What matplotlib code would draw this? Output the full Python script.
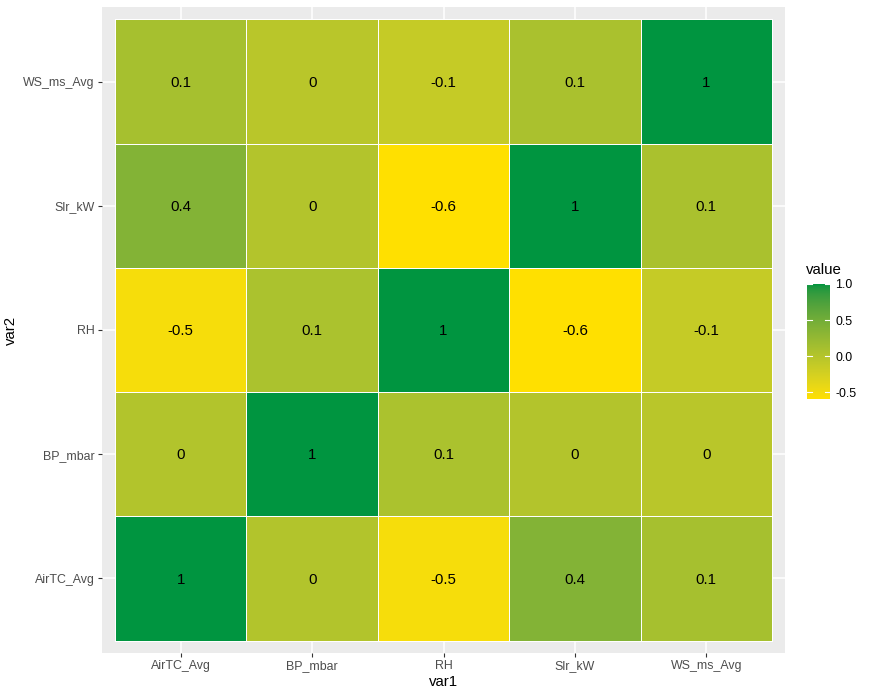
import numpy as np
import matplotlib
matplotlib.use("Agg")
import matplotlib.pyplot as plt
from matplotlib.colors import ListedColormap, to_rgb

plt.rcParams['font.family'] = ['Liberation Sans', 'DejaVu Sans']

# =============================
# DATOS
# =============================
variables = ['AirTC_Avg', 'BP_mbar', 'RH', 'Slr_kW', 'WS_ms_Avg']

# matriz de correlación (valores estimados, se muestran redondeados a 1 decimal)
corr = np.array([
    [1.00,  0.03, -0.52,  0.38,  0.12],
    [0.03,  1.00,  0.08,  0.02, -0.03],
    [-0.52, 0.08,  1.00, -0.59, -0.13],
    [0.38,  0.02, -0.59,  1.00,  0.09],
    [0.12, -0.03, -0.13,  0.09,  1.00],
])

legend_ticks = [-0.5, 0.0, 0.5, 1.0]
low_col = '#FFE000'
high_col = '#009540'


# =============================
# PALETA (interpolación en Lab, como ggplot2)
# =============================
def srgb_to_lab(c):
    c = np.asarray(c, dtype=float)
    lin = np.where(c <= 0.04045, c / 12.92, ((c + 0.055) / 1.055) ** 2.4)
    m = np.array([[0.4124, 0.3576, 0.1805],
                  [0.2126, 0.7152, 0.0722],
                  [0.0193, 0.1192, 0.9505]])
    xyz = m @ lin / np.array([0.95047, 1.0, 1.08883])
    f = np.where(xyz > 0.008856, np.cbrt(xyz), 7.787 * xyz + 16 / 116)
    return np.array([116 * f[1] - 16, 500 * (f[0] - f[1]), 200 * (f[1] - f[2])])


def lab_to_srgb(lab):
    L, a, b = lab
    fy = (L + 16) / 116
    fx = fy + a / 500
    fz = fy - b / 200
    f = np.array([fx, fy, fz])
    xyz = np.where(f ** 3 > 0.008856, f ** 3, (f - 16 / 116) / 7.787)
    xyz = xyz * np.array([0.95047, 1.0, 1.08883])
    minv = np.array([[3.2406, -1.5372, -0.4986],
                     [-0.9689, 1.8758, 0.0415],
                     [0.0557, -0.2040, 1.0570]])
    lin = minv @ xyz
    c = np.where(lin <= 0.0031308, 12.92 * lin, 1.055 * np.clip(lin, 0, None) ** (1 / 2.4) - 0.055)
    return np.clip(c, 0, 1)


lab_lo = srgb_to_lab(to_rgb(low_col))
lab_hi = srgb_to_lab(to_rgb(high_col))
cmap = ListedColormap([lab_to_srgb(lab_lo + t * (lab_hi - lab_lo)) for t in np.linspace(0, 1, 256)])
vmin, vmax = corr.min(), corr.max()

# =============================
# FIGURA
# =============================
W, H = 873, 698
fig = plt.figure(figsize=(W / 100, H / 100), dpi=100)
ax = fig.add_axes([102 / W, 1 - 653 / H, 683 / W, 646 / H])
ax.set_facecolor('#EBEBEB')

n = len(variables)
ax.pcolormesh(np.arange(n + 1) - 0.5, np.arange(n + 1) - 0.5, corr.T,
              cmap=cmap, vmin=vmin, vmax=vmax, edgecolors='white', linewidth=0.7, zorder=2)

for i in range(n):
    for j in range(n):
        v = round(corr[i, j], 1) + 0.0
        ax.text(i, j - 0.01, f"{v:g}", ha='center', va='center', fontsize=10.8, color='black', zorder=3)

ax.set_xlim(-0.6, n - 0.4)
ax.set_ylim(-0.6, n - 0.4)
ax.set_xticks(range(n))
ax.set_yticks(range(n))
ax.set_xticklabels(variables)
ax.set_yticklabels(variables)
ax.grid(True, color='white', linewidth=1.1, zorder=1)
ax.set_axisbelow(True)
for s in ax.spines.values():
    s.set_visible(False)
ax.tick_params(length=2.7, width=0.8, color='#333333', labelsize=8.9, labelcolor='#4D4D4D', pad=2.5)
ax.set_xlabel('var1', fontsize=10.8, labelpad=2)
ax.set_ylabel('var2', fontsize=10.8, labelpad=4)

# =============================
# LEYENDA (barra de color)
# =============================
cax = fig.add_axes([807 / W, 1 - 399 / H, 23 / W, 115 / H])
grad = np.linspace(vmin, vmax, 256).reshape(-1, 1)
cax.imshow(grad, aspect='auto', cmap=cmap, vmin=vmin, vmax=vmax, origin='lower',
           extent=(0, 1, vmin, vmax))
cax.set_xlim(0, 1)
cax.set_ylim(vmin, vmax)
cax.set_xticks([])
cax.set_yticks(legend_ticks)
cax.set_yticklabels([f"{t:.1f}" for t in legend_ticks])
for t in legend_ticks:
    cax.plot([0, 0.2], [t, t], color='white', linewidth=0.8)
    cax.plot([0.8, 1], [t, t], color='white', linewidth=0.8)
cax.yaxis.tick_right()
cax.tick_params(length=0, labelsize=8.9, labelcolor='black', pad=4)
for s in cax.spines.values():
    s.set_visible(False)
fig.text(806 / W, 1 - 270 / H, 'value', fontsize=10.8, ha='left', va='center')

plt.savefig('out.png', dpi=100)
